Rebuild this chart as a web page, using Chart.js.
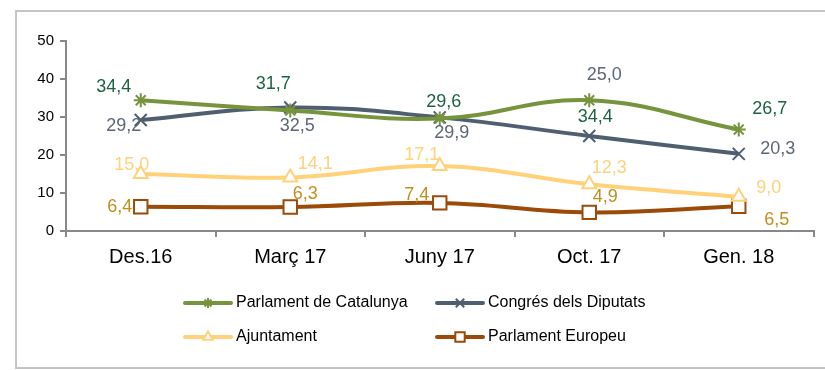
<!DOCTYPE html>
<html>
<head>
<meta charset="utf-8">
<script src="https://cdn.jsdelivr.net/npm/chart.js@4/dist/chart.umd.min.js"></script>
<style>
  body { margin: 0; background: #fff; }
  canvas { display: block; }
</style>
</head>
<body>
<canvas id="chart" width="825" height="370"></canvas>
<script>
const periods = ["Des.16", "Març 17", "Juny 17", "Oct. 17", "Gen. 18"];
const parlamentCat = [34.4, 31.7, 29.6, 34.4, 26.7];
const congres = [29.2, 32.5, 29.9, 25.0, 20.3];
const ajuntament = [15.0, 14.1, 17.1, 12.3, 9.0];
const parlamentEur = [6.4, 6.3, 7.4, 4.9, 6.5];
const yTicks = [0, 10, 20, 30, 40, 50];

const FONT = "'Liberation Sans', Arial, sans-serif";

// label offsets from each point (px), per series
const labelOffsets = [
  [[-27, -13], [-17, -27], [4, -16], [6, 17], [31, -21]],
  [[-17, 6], [7, 19], [12, 16], [15, -61], [39, -5]],
  [[-9, -9], [25, -13], [-18, -11], [20, -16], [30, -9]],
  [[-21, 0], [15, -13], [-23, -8], [16, -15], [38, 14]]
];
const labelColors = ["#1b6440", "#5b6776", "#ffd27a", "#c48d1c"];

const frame = {
  id: "frame",
  beforeDraw(chart) {
    const ctx = chart.ctx;
    ctx.save();
    ctx.fillStyle = "#fff";
    ctx.fillRect(0, 0, chart.width, chart.height);
    ctx.strokeStyle = "#c4c4c4";
    ctx.lineWidth = 2;
    ctx.strokeRect(16, 11, 840, 357);
    ctx.restore();
  }
};

const pointLabels = {
  id: "pointLabels",
  afterDatasetsDraw(chart) {
    const ctx = chart.ctx;
    ctx.save();
    ctx.font = "18px " + FONT;
    ctx.textAlign = "center";
    ctx.textBaseline = "middle";
    chart.data.datasets.forEach((ds, i) => {
      const meta = chart.getDatasetMeta(i);
      ctx.fillStyle = labelColors[i];
      meta.data.forEach((pt, j) => {
        const off = labelOffsets[i][j];
        const txt = ds.data[j].toFixed(1).replace(".", ",");
        ctx.fillText(txt, pt.x + off[0], pt.y + off[1]);
      });
    });
    ctx.restore();
  }
};

const legendBox = {
  id: "legendBox",
  afterDraw(chart) {
    const ctx = chart.ctx;
    const cols = [185, 437];
    const rows = [303, 337];
    ctx.save();
    chart.data.datasets.forEach((ds, i) => {
      const x = cols[i % 2];
      const y = rows[Math.floor(i / 2)];
      ctx.strokeStyle = ds.borderColor;
      ctx.lineWidth = 4;
      ctx.lineCap = "round";
      ctx.beginPath();
      ctx.moveTo(x, y);
      ctx.lineTo(x + 46, y);
      ctx.stroke();
      ctx.lineCap = "butt";
      ctx.strokeStyle = ds.pointBorderColor;
      ctx.fillStyle = ds.pointBackgroundColor;
      ctx.lineWidth = 2;
      Chart.helpers.drawPoint(ctx, {
        pointStyle: ds.pointStyle,
        radius: ds.pointRadius * 0.7,
        borderWidth: 2
      }, x + 23, y);
      ctx.fillStyle = "#000";
      ctx.font = "16px " + FONT;
      ctx.textAlign = "left";
      ctx.textBaseline = "middle";
      ctx.fillText(ds.label, x + 51, y);
    });
    ctx.restore();
  }
};

function series(label, data, color, style, radius, fill) {
  return {
    label: label,
    data: data,
    borderColor: color,
    backgroundColor: fill,
    borderWidth: 4,
    tension: 0.4,
    pointStyle: style,
    pointRadius: radius,
    pointBorderColor: color,
    pointBackgroundColor: fill,
    pointBorderWidth: 2
  };
}

new Chart(document.getElementById("chart"), {
  type: "line",
  data: {
    labels: periods,
    datasets: [
      series("Parlament de Catalunya", parlamentCat, "#77933c", "star", 7, "#77933c"),
      series("Congrés dels Diputats", congres, "#4f5f6f", "crossRot", 8.5, "#4f5f6f"),
      series("Ajuntament", ajuntament, "#ffd27a", "triangle", 8, "#ffffff"),
      series("Parlament Europeu", parlamentEur, "#9c4a08", "rect", 9.5, "#ffffff")
    ]
  },
  options: {
    responsive: false,
    animation: false,
    layout: { padding: { left: 0, right: 8, top: 41, bottom: 0 } },
    plugins: {
      legend: { display: false },
      tooltip: { enabled: false }
    },
    scales: {
      x: {
        offset: true,
        grid: {
          offset: true,
          drawOnChartArea: false,
          tickLength: 6,
          color: "#888",
          lineWidth: 2
        },
        border: { color: "#888", width: 2 },
        ticks: {
          color: "#000",
          padding: 8,
          font: { family: FONT, size: 20 }
        },
        afterFit(scale) { scale.height = 139; }
      },
      y: {
        min: 0,
        max: 50,
        grid: {
          drawOnChartArea: false,
          tickLength: 6,
          color: "#888",
          lineWidth: 2
        },
        border: { color: "#888", width: 2 },
        afterBuildTicks(scale) { scale.ticks = yTicks.map(v => ({ value: v })); },
        ticks: {
          color: "#000",
          padding: 6,
          font: { family: FONT, size: 15 }
        },
        afterFit(scale) { scale.width = 66; }
      }
    }
  },
  plugins: [frame, pointLabels, legendBox]
});
</script>
</body>
</html>
